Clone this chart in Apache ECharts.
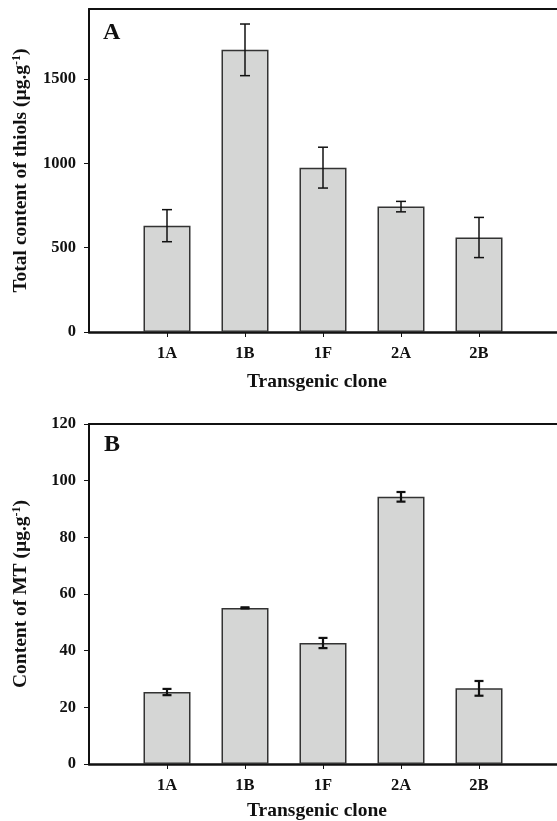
<!DOCTYPE html>
<html><head><meta charset="utf-8">
<script src="https://cdn.jsdelivr.net/npm/echarts@6/dist/echarts.min.js"></script>
<style>html,body{margin:0;padding:0;background:#fff}#c{width:557px;height:821px}</style>
</head><body><div id="c"></div>
<script>
// ---- data ----
const categories = ['1A', '1B', '1F', '2A', '2B'];
const categoryPositions = [1, 2, 3, 4, 5];
const thiolValues = [630, 1672, 974, 743, 560];
const thiolErrors = [95, 153, 121, 31, 119];
const mtValues = [25.4, 55.1, 42.7, 94.3, 26.7];
const mtErrors = [1.1, 0.2, 1.8, 1.7, 2.6];
const thiolTicks = [0, 500, 1000, 1500];
const mtTicks = [0, 20, 40, 60, 80, 100, 120];
const panelLabels = ['A', 'B'];
const xName = 'Transgenic clone';

const FONT = '"Liberation Serif", "Times New Roman", serif';
const chart = echarts.init(document.getElementById('c'));

function errRender(capHalf, lw) {
  return function (params, api) {
    const x = api.value(0), lo = api.value(1), hi = api.value(2);
    const a = api.coord([x, lo]), b = api.coord([x, hi]);
    const st = { stroke: '#111', lineWidth: lw };
    return { type: 'group', children: [
      { type: 'line', shape: { x1: a[0], y1: a[1], x2: b[0], y2: b[1] }, style: st },
      { type: 'line', shape: { x1: a[0] - capHalf, y1: a[1], x2: a[0] + capHalf, y2: a[1] }, style: st },
      { type: 'line', shape: { x1: b[0] - capHalf, y1: b[1], x2: b[0] + capHalf, y2: b[1] }, style: st }
    ]};
  };
}

const labelStyle = { fontFamily: FONT, fontWeight: 'bold', fontSize: 16.5, color: '#111' };
function xAxisFor(gi, gap) {
  return {
    type: 'value', gridIndex: gi, min: 0, max: 6, position: 'bottom',
    axisLine: { show: true, onZero: false, lineStyle: { color: '#111', width: 2.5 } },
    axisTick: { show: true, customValues: categoryPositions, length: 5, lineStyle: { color: '#111', width: 1 } },
    axisLabel: Object.assign({ customValues: categoryPositions, margin: 13,
      formatter: v => categories[categoryPositions.indexOf(v)] || '' }, labelStyle),
    splitLine: { show: false },
    name: xName, nameLocation: 'middle', nameGap: gap,
    nameTextStyle: { fontFamily: FONT, fontWeight: 'bold', fontSize: 19.5, color: '#111', padding: [0, 12, 0, 0] }
  };
}
function topAxisFor(gi) {
  return {
    type: 'value', gridIndex: gi, min: 0, max: 6, position: 'top',
    axisLine: { show: true, onZero: false, lineStyle: { color: '#111', width: 2 } },
    axisTick: { show: false }, axisLabel: { show: false }, splitLine: { show: false }
  };
}
function yAxisFor(gi, max, ticks, nameRich, gap) {
  return {
    type: 'value', gridIndex: gi, min: 0, max: max,
    axisLine: { show: true, onZero: false, lineStyle: { color: '#111', width: 2 } },
    axisTick: { show: true, customValues: ticks, length: 5, lineStyle: { color: '#111', width: 1 } },
    axisLabel: Object.assign({ customValues: ticks, margin: 13, formatter: v => String(v) }, labelStyle),
    splitLine: { show: false },
    name: nameRich, nameLocation: 'middle', nameGap: gap,
    nameTextStyle: { rich: {
      n: { fontFamily: FONT, fontWeight: 'bold', fontSize: 19.5, color: '#111' },
      s: { fontFamily: FONT, fontWeight: 'bold', fontSize: 12, color: '#111', verticalAlign: 'top', lineHeight: 12 }
    } }
  };
}

const barStyle = { color: '#d5d6d5', borderColor: '#333', borderWidth: 1.5 };
const letterStyle = { fontFamily: FONT, fontWeight: 'bold', fontSize: 24, color: '#111' };

chart.setOption({
  animation: false,
  backgroundColor: '#fff',
  title: [
    { text: panelLabels[0], left: 103, top: 21, padding: 0, textStyle: letterStyle },
    { text: panelLabels[1], left: 104, top: 433, padding: 0, textStyle: letterStyle }
  ],
  grid: [
    { left: 89, top: 9, right: 0, height: 323, outerBoundsMode: 'none', containLabel: false },
    { left: 89, top: 424, right: 0, height: 340, outerBoundsMode: 'none', containLabel: false }
  ],
  xAxis: [xAxisFor(0, 40), xAxisFor(1, 37), topAxisFor(0), topAxisFor(1)],
  yAxis: [
    yAxisFor(0, 1914, thiolTicks, '{n|Total content of thiols (µg.g}{s|-1}{n|)}', 58),
    yAxisFor(1, 120, mtTicks, '{n|Content of MT (µg.g}{s|-1}{n|)}', 58)
  ],
  series: [
    { type: 'bar', xAxisIndex: 0, yAxisIndex: 0, barWidth: 47, itemStyle: barStyle,
      data: thiolValues.map((v, i) => [categoryPositions[i], v]) },
    { type: 'custom', xAxisIndex: 0, yAxisIndex: 0, renderItem: errRender(5, 1.5), z: 5,
      data: thiolValues.map((v, i) => [categoryPositions[i], v - thiolErrors[i], v + thiolErrors[i]]) },
    { type: 'bar', xAxisIndex: 1, yAxisIndex: 1, barWidth: 47, itemStyle: barStyle,
      data: mtValues.map((v, i) => [categoryPositions[i], v]) },
    { type: 'custom', xAxisIndex: 1, yAxisIndex: 1, renderItem: errRender(4.5, 2.2), z: 5,
      data: mtValues.map((v, i) => [categoryPositions[i], v - mtErrors[i], v + mtErrors[i]]) }
  ]
});
</script></body></html>
